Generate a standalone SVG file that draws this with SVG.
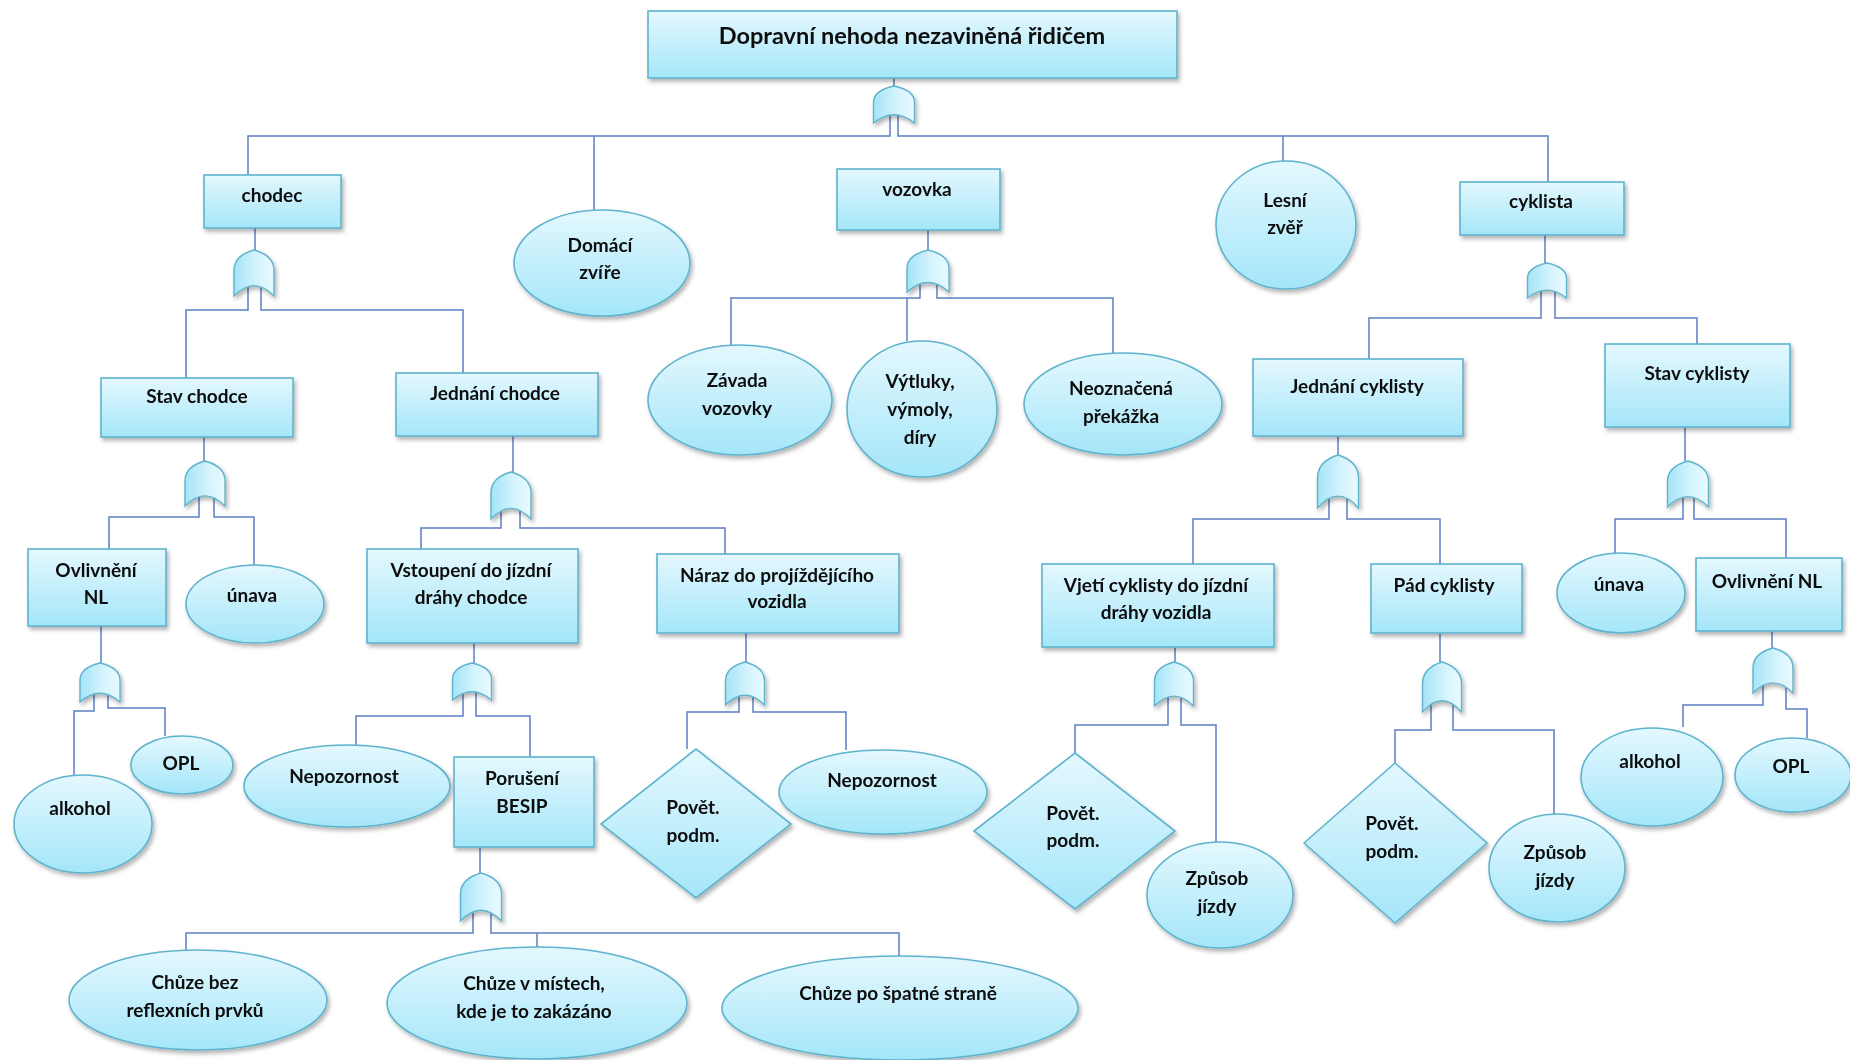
<svg xmlns="http://www.w3.org/2000/svg" xmlns:xlink="http://www.w3.org/1999/xlink" width="1850" height="1060" viewBox="0 0 1850 1060">
  <defs>
    <linearGradient id="fillV" x1="0" y1="0" x2="0" y2="1">
      <stop offset="0" stop-color="#E4F8FE"/>
      <stop offset="1" stop-color="#A4E6F9"/>
    </linearGradient>
    <linearGradient id="fillH" x1="0" y1="0" x2="1" y2="0">
      <stop offset="0" stop-color="#A4E4F7"/>
      <stop offset="0.6" stop-color="#D6F4FD"/>
      <stop offset="1" stop-color="#E8FAFF"/>
    </linearGradient>
    <filter id="shadow" x="-10%" y="-10%" width="125%" height="130%">
      <feDropShadow dx="2" dy="3" stdDeviation="2" flood-color="#000" flood-opacity="0.3"/>
    </filter>
    <!-- OR gate in unit coordinates: origin at the top point, width 1, height 1 -->
    <path id="orGate" d="M-0.5,1 L-0.5,0.44 Q-0.5,0.12 0,0 Q0.5,0.12 0.5,0.44 L0.5,1 Q0,0.55 -0.5,1 Z"
          fill="url(#fillH)" stroke="#5FB3CD" stroke-width="1.4" vector-effect="non-scaling-stroke"/>
  </defs>
  <style>
    .box, .ell, .dia { fill: url(#fillV); stroke: #5FB3CD; stroke-width: 1.6; }
    .node { filter: url(#shadow); }
    .gate { filter: url(#shadow); }
    .conn path { fill: none; stroke: #5B80C2; stroke-width: 1.5; }
    text { font-family: Lato, "Liberation Sans", "DejaVu Sans", sans-serif; font-weight: bold; font-size: 19px; fill: #0d0d0d; text-anchor: middle; }
    .title { font-size: 23.5px; }
  </style>

  <rect width="1850" height="1060" fill="#FFFFFF"/>

  <!-- connectors -->
  <g id="connectors" class="conn">
    <path d="M894,78 V88"/>
    <path d="M890,112 V136 H248 V175"/>
    <path d="M898,112 V136 H1548 V182"/>
    <path d="M594,136 V210"/>
    <path d="M1283,136 V161"/>

    <path d="M255,228 V250"/>
    <path d="M248,284 V310 H186 V378"/>
    <path d="M261,284 V310 H463 V373"/>

    <path d="M928,230 V250"/>
    <path d="M920,282 V298 H731 V345"/>
    <path d="M937,282 V298 H1113 V354"/>
    <path d="M907,298 V341"/>

    <path d="M1545,235 V263"/>
    <path d="M1541,288 V318 H1369 V359"/>
    <path d="M1555,288 V318 H1697 V344"/>

    <path d="M204,437 V461"/>
    <path d="M199,494 V517 H109 V549"/>
    <path d="M214,494 V517 H254 V565"/>

    <path d="M513,436 V472"/>
    <path d="M501,506 V528 H421 V549"/>
    <path d="M520,506 V528 H725 V554"/>

    <path d="M1338,436 V455"/>
    <path d="M1329,496 V519 H1193 V564"/>
    <path d="M1347,496 V519 H1440 V564"/>

    <path d="M1685,427 V461"/>
    <path d="M1683,494 V519 H1615 V553"/>
    <path d="M1694,494 V519 H1786 V558"/>

    <path d="M101,626 V663"/>
    <path d="M94,692 V711 H74 V775"/>
    <path d="M108,692 V708 H165 V736"/>

    <path d="M474,643 V663"/>
    <path d="M463,690 V716 H356 V745"/>
    <path d="M476,690 V716 H530 V757"/>

    <path d="M746,633 V662"/>
    <path d="M739,694 V712 H687 V749"/>
    <path d="M753,694 V712 H846 V750"/>

    <path d="M1175,647 V662"/>
    <path d="M1168,695 V725 H1075 V753"/>
    <path d="M1181,695 V725 H1216 V842"/>

    <path d="M1440,633 V662"/>
    <path d="M1431,700 V730 H1395 V763"/>
    <path d="M1453,700 V730 H1554 V815"/>

    <path d="M1772,631 V648"/>
    <path d="M1763,682 V705 H1683 V727"/>
    <path d="M1786,682 V709 H1807 V738"/>

    <path d="M480,847 V873"/>
    <path d="M473,908 V933 H186 V950"/>
    <path d="M491,908 V933 H899 V956"/>
    <path d="M537,933 V947"/>
  </g>

  <!-- OR gates -->
  <g id="gate-top" class="gate"><use href="#orGate" transform="translate(894,86) scale(41,37)"/></g>
  <g id="gate-chodec" class="gate"><use href="#orGate" transform="translate(254,250) scale(40,46)"/></g>
  <g id="gate-vozovka" class="gate"><use href="#orGate" transform="translate(928,250) scale(42,42)"/></g>
  <g id="gate-cyklista" class="gate"><use href="#orGate" transform="translate(1547,263) scale(39,35)"/></g>
  <g id="gate-stav-chodce" class="gate"><use href="#orGate" transform="translate(205,461) scale(40,45)"/></g>
  <g id="gate-jednani-chodce" class="gate"><use href="#orGate" transform="translate(511,472) scale(40,47)"/></g>
  <g id="gate-jednani-cyklisty" class="gate"><use href="#orGate" transform="translate(1338,455) scale(41,53)"/></g>
  <g id="gate-stav-cyklisty" class="gate"><use href="#orGate" transform="translate(1688,461) scale(41,46)"/></g>
  <g id="gate-ovlivneni-l" class="gate"><use href="#orGate" transform="translate(100,663) scale(40,39)"/></g>
  <g id="gate-vstoupeni" class="gate"><use href="#orGate" transform="translate(472,663) scale(39,37)"/></g>
  <g id="gate-naraz" class="gate"><use href="#orGate" transform="translate(745,662) scale(39,43)"/></g>
  <g id="gate-vjeti" class="gate"><use href="#orGate" transform="translate(1174,662) scale(39,44)"/></g>
  <g id="gate-pad" class="gate"><use href="#orGate" transform="translate(1442,662) scale(39,50)"/></g>
  <g id="gate-ovlivneni-r" class="gate"><use href="#orGate" transform="translate(1773,648) scale(40,45)"/></g>
  <g id="gate-besip" class="gate"><use href="#orGate" transform="translate(481,873) scale(41,48)"/></g>

  <!-- events -->
  <g id="n-top" class="node">
    <rect class="box" x="648" y="11" width="529" height="67"/>
    <text class="title" x="912" y="44">Dopravní nehoda nezaviněná řidičem</text>
  </g>
  <g id="n-chodec" class="node">
    <rect class="box" x="204" y="175" width="137" height="53"/>
    <text x="272" y="202">chodec</text>
  </g>
  <g id="n-domaci-zvire" class="node">
    <ellipse class="ell" cx="602" cy="263" rx="88" ry="53"/>
    <text x="600" y="252">Domácí</text>
    <text x="600" y="279">zvíře</text>
  </g>
  <g id="n-vozovka" class="node">
    <rect class="box" x="837" y="169" width="163" height="61"/>
    <text x="917" y="196">vozovka</text>
  </g>
  <g id="n-lesni-zver" class="node">
    <ellipse class="ell" cx="1286" cy="225" rx="70" ry="64"/>
    <text x="1285" y="207">Lesní</text>
    <text x="1285" y="234">zvěř</text>
  </g>
  <g id="n-cyklista" class="node">
    <rect class="box" x="1460" y="182" width="164" height="53"/>
    <text x="1541" y="208">cyklista</text>
  </g>

  <g id="n-stav-chodce" class="node">
    <rect class="box" x="101" y="378" width="192" height="59"/>
    <text x="197" y="403">Stav chodce</text>
  </g>
  <g id="n-jednani-chodce" class="node">
    <rect class="box" x="396" y="373" width="202" height="63"/>
    <text x="495" y="400">Jednání chodce</text>
  </g>
  <g id="n-zavada" class="node">
    <ellipse class="ell" cx="740" cy="400" rx="92" ry="55"/>
    <text x="737" y="387">Závada</text>
    <text x="737" y="415">vozovky</text>
  </g>
  <g id="n-vytluky" class="node">
    <ellipse class="ell" cx="922" cy="409" rx="75" ry="68"/>
    <text x="920" y="388">Výtluky,</text>
    <text x="920" y="416">výmoly,</text>
    <text x="920" y="444">díry</text>
  </g>
  <g id="n-prekazka" class="node">
    <ellipse class="ell" cx="1123" cy="404" rx="99" ry="51"/>
    <text x="1121" y="395">Neoznačená</text>
    <text x="1121" y="423">překážka</text>
  </g>
  <g id="n-jednani-cyklisty" class="node">
    <rect class="box" x="1253" y="359" width="210" height="77"/>
    <text x="1357" y="393">Jednání cyklisty</text>
  </g>
  <g id="n-stav-cyklisty" class="node">
    <rect class="box" x="1605" y="344" width="185" height="83"/>
    <text x="1697" y="380">Stav cyklisty</text>
  </g>

  <g id="n-ovlivneni-l" class="node">
    <rect class="box" x="28" y="549" width="138" height="77"/>
    <text x="96" y="577">Ovlivnění</text>
    <text x="96" y="604">NL</text>
  </g>
  <g id="n-unava-l" class="node">
    <ellipse class="ell" cx="255" cy="604" rx="69" ry="39"/>
    <text x="252" y="602">únava</text>
  </g>
  <g id="n-vstoupeni" class="node">
    <rect class="box" x="367" y="549" width="211" height="94"/>
    <text x="471" y="577">Vstoupení do jízdní</text>
    <text x="471" y="604">dráhy chodce</text>
  </g>
  <g id="n-naraz" class="node">
    <rect class="box" x="657" y="554" width="242" height="79"/>
    <text x="777" y="582">Náraz do projíždějícího</text>
    <text x="777" y="608">vozidla</text>
  </g>
  <g id="n-vjeti" class="node">
    <rect class="box" x="1042" y="564" width="232" height="83"/>
    <text x="1156" y="592">Vjetí cyklisty do jízdní</text>
    <text x="1156" y="619">dráhy vozidla</text>
  </g>
  <g id="n-pad" class="node">
    <rect class="box" x="1371" y="564" width="151" height="69"/>
    <text x="1444" y="592">Pád cyklisty</text>
  </g>
  <g id="n-unava-r" class="node">
    <ellipse class="ell" cx="1621" cy="593" rx="64" ry="40"/>
    <text x="1619" y="591">únava</text>
  </g>
  <g id="n-ovlivneni-r" class="node">
    <rect class="box" x="1696" y="558" width="146" height="73"/>
    <text x="1767" y="588">Ovlivnění NL</text>
  </g>

  <g id="n-alkohol-l" class="node">
    <ellipse class="ell" cx="83" cy="824" rx="69" ry="49"/>
    <text x="80" y="815">alkohol</text>
  </g>
  <g id="n-opl-l" class="node">
    <ellipse class="ell" cx="182" cy="765" rx="51" ry="29"/>
    <text x="181" y="770">OPL</text>
  </g>
  <g id="n-nepozornost-l" class="node">
    <ellipse class="ell" cx="347" cy="786" rx="103" ry="41"/>
    <text x="344" y="783">Nepozornost</text>
  </g>
  <g id="n-besip" class="node">
    <rect class="box" x="454" y="757" width="140" height="90"/>
    <text x="522" y="785">Porušení</text>
    <text x="522" y="813">BESIP</text>
  </g>
  <g id="n-povet-1" class="node">
    <polygon class="dia" points="601,824 696,749 791,824 696,898"/>
    <text x="693" y="814">Povět.</text>
    <text x="693" y="842">podm.</text>
  </g>
  <g id="n-nepozornost-r" class="node">
    <ellipse class="ell" cx="883" cy="792" rx="104" ry="42"/>
    <text x="882" y="787">Nepozornost</text>
  </g>
  <g id="n-povet-2" class="node">
    <polygon class="dia" points="974,831 1075,753 1175,831 1075,909"/>
    <text x="1073" y="820">Povět.</text>
    <text x="1073" y="847">podm.</text>
  </g>
  <g id="n-zpusob-1" class="node">
    <ellipse class="ell" cx="1220" cy="895" rx="73" ry="53"/>
    <text x="1217" y="885">Způsob</text>
    <text x="1217" y="913">jízdy</text>
  </g>
  <g id="n-povet-3" class="node">
    <polygon class="dia" points="1304,843 1395,763 1487,843 1395,923"/>
    <text x="1392" y="830">Povět.</text>
    <text x="1392" y="858">podm.</text>
  </g>
  <g id="n-zpusob-2" class="node">
    <ellipse class="ell" cx="1557" cy="868" rx="68" ry="54"/>
    <text x="1555" y="859">Způsob</text>
    <text x="1555" y="887">jízdy</text>
  </g>
  <g id="n-alkohol-r" class="node">
    <ellipse class="ell" cx="1652" cy="777" rx="71" ry="49"/>
    <text x="1650" y="768">alkohol</text>
  </g>
  <g id="n-opl-r" class="node">
    <ellipse class="ell" cx="1793" cy="775" rx="58" ry="37"/>
    <text x="1791" y="773">OPL</text>
  </g>

  <g id="n-chuze-bez" class="node">
    <ellipse class="ell" cx="198" cy="1000" rx="129" ry="50"/>
    <text x="195" y="989">Chůze bez</text>
    <text x="195" y="1017">reflexních prvků</text>
  </g>
  <g id="n-chuze-zakazano" class="node">
    <ellipse class="ell" cx="537" cy="1003" rx="150" ry="56"/>
    <text x="534" y="990">Chůze v místech,</text>
    <text x="534" y="1018">kde je to zakázáno</text>
  </g>
  <g id="n-chuze-strana" class="node">
    <ellipse class="ell" cx="900" cy="1008" rx="178" ry="52"/>
    <text x="898" y="1000">Chůze po špatné straně</text>
  </g>
</svg>
